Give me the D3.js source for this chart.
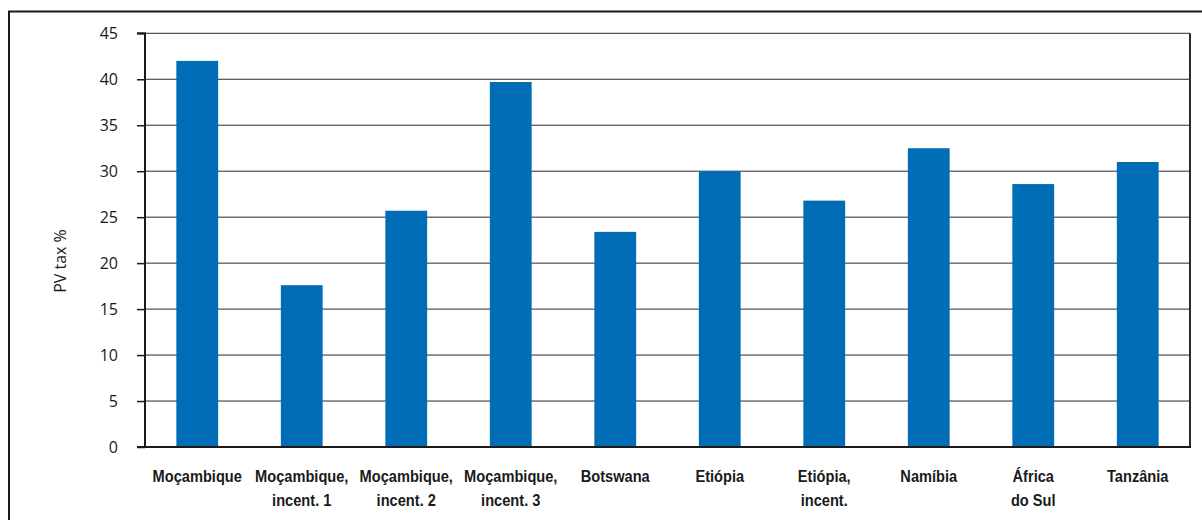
<!DOCTYPE html>
<html>
<head>
<meta charset="utf-8">
<script src="https://cdn.jsdelivr.net/npm/d3@7"></script>
<style>
  html, body { margin: 0; padding: 0; background: #fff; }
  svg { display: block; }
</style>
</head>
<body>
<svg id="chart" width="1202" height="520"></svg>
<script>
// PV tax (%) by country / incentive regime
const categories = [
  ["Moçambique"],
  ["Moçambique,", "incent. 1"],
  ["Moçambique,", "incent. 2"],
  ["Moçambique,", "incent. 3"],
  ["Botswana"],
  ["Etiópia"],
  ["Etiópia,", "incent."],
  ["Namíbia"],
  ["África", "do Sul"],
  ["Tanzânia"]
];
const values = [42.0, 17.6, 25.7, 39.7, 23.4, 30.0, 26.8, 32.5, 28.6, 31.0];
const yTicks = [0, 5, 10, 15, 20, 25, 30, 35, 40, 45];
const yLabel = "PV tax %";

const svg = d3.select("#chart");
const plotL = 145, plotR = 1190, plotT = 33.3, plotB = 447;

// outer frame (top and left edges)
svg.append("path")
  .attr("d", "M9,520 L9,11.5 L1202,11.5")
  .attr("fill", "none")
  .attr("stroke", "#1a1a1a")
  .attr("stroke-width", 2);

const keys = categories.map(c => c.join(" "));
const x = d3.scaleBand().domain(keys).range([plotL, plotR])
  .paddingInner(0.6).paddingOuter(0.3);
const y = d3.scaleLinear().domain([0, 45]).range([plotB, plotT]);

// gridlines
svg.append("g").selectAll("line")
  .data(yTicks.filter(t => t > 0))
  .join("line")
  .attr("x1", plotL).attr("x2", plotR)
  .attr("y1", d => y(d)).attr("y2", d => y(d))
  .attr("stroke", "#2a2a2a")
  .attr("stroke-width", 1);

// bars
svg.append("g").selectAll("rect")
  .data(values)
  .join("rect")
  .attr("x", (d, i) => x(keys[i]))
  .attr("width", x.bandwidth())
  .attr("y", d => y(d))
  .attr("height", d => y(0) - y(d))
  .attr("fill", "#006db6");

// right border of plot area
svg.append("line")
  .attr("x1", plotR).attr("x2", plotR)
  .attr("y1", plotT).attr("y2", plotB)
  .attr("stroke", "#2a2a2a").attr("stroke-width", 2);

// y axis
const yAxis = d3.axisLeft(y).tickValues(yTicks).tickSize(8).tickPadding(19);
const gy = svg.append("g").attr("transform", `translate(${plotL},0)`).call(yAxis);
gy.select(".domain").attr("stroke", "#1a1a1a").attr("stroke-width", 2)
  .attr("d", `M${-8},${plotT}H0V${plotB}`);
gy.selectAll(".tick line").attr("stroke", "#1a1a1a").attr("stroke-width", 1.5);
gy.selectAll(".tick text")
  .attr("fill", "#1a1a1a")
  .style("font-family", "'Open Sans', 'Noto Sans', sans-serif")
  .style("font-size", "16px");

// baseline
svg.append("line")
  .attr("x1", plotL - 8).attr("x2", plotR + 1)
  .attr("y1", plotB).attr("y2", plotB)
  .attr("stroke", "#1a1a1a").attr("stroke-width", 2);

// y title
svg.append("text")
  .attr("transform", "translate(66,261) rotate(-90)")
  .attr("text-anchor", "middle")
  .attr("fill", "#1a1a1a")
  .style("font-family", "'Open Sans', 'Noto Sans', sans-serif")
  .style("font-size", "16px")
  .text(yLabel);

// category labels (bold, horizontally condensed)
const lab = svg.append("g").selectAll("text")
  .data(categories)
  .join("text")
  .attr("transform", (d, i) => `translate(${x(keys[i]) + x.bandwidth() / 2},482) scale(0.86,1)`)
  .attr("text-anchor", "middle")
  .attr("fill", "#1a1a1a")
  .style("font-family", "'Liberation Sans', Arial, sans-serif")
  .style("font-weight", "bold")
  .style("font-size", "17px");
lab.selectAll("tspan")
  .data(d => d)
  .join("tspan")
  .attr("x", 0)
  .attr("dy", (d, i) => i === 0 ? 0 : 24)
  .text(d => d);
</script>
</body>
</html>
